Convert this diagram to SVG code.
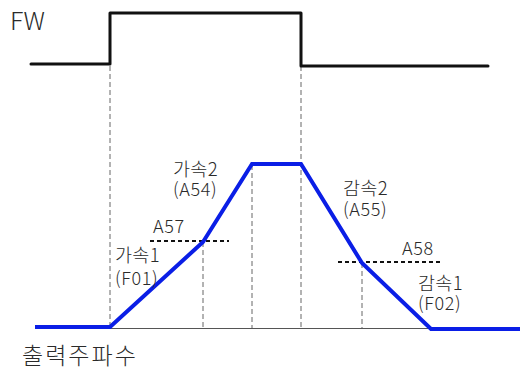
<svg xmlns="http://www.w3.org/2000/svg" width="520" height="372" viewBox="0 0 520 372">
<style>
.t{font-family:"Noto Sans CJK KR","Liberation Sans",sans-serif;font-size:18px;letter-spacing:0.6px;fill:#2a2a2a;font-weight:300;}
.k{font-family:"Noto Sans CJK KR","Liberation Sans",sans-serif;font-size:18.5px;letter-spacing:0.3px;fill:#2a2a2a;font-weight:300;}
.vd{stroke:#666;stroke-width:1;stroke-dasharray:5,3;fill:none;}
.hd{stroke:#111;stroke-width:2;stroke-dasharray:4,3;fill:none;}
</style>
<rect width="520" height="372" fill="#fff"/>
<g id="connectors">
<line class="vd" x1="110" y1="66" x2="110" y2="328"/>
<line class="vd" x1="301" y1="66" x2="301" y2="328"/>
<line class="vd" x1="203" y1="242" x2="203" y2="328"/>
<line class="vd" x1="252" y1="165" x2="252" y2="328"/>
<line class="vd" x1="362" y1="263" x2="362" y2="328"/>
<line x1="110" y1="328.5" x2="520" y2="328.5" stroke="#555" stroke-width="1.2"/>
<line class="hd" x1="150" y1="241" x2="229" y2="241"/>
<line class="hd" x1="338" y1="262" x2="440" y2="262"/>
</g>
<g id="fw">
<polyline points="31,64 110,64 110,13 301,13 301,66 488,66" fill="none" stroke="#111" stroke-width="3" stroke-linejoin="round" stroke-linecap="round"/>
<text x="10" y="30" class="t" style="font-size:25px;letter-spacing:0">FW</text>
</g>
<g id="output">
<polyline points="35,327 110,327 203,242 252,164 301,164 362,263 431,329 520,329" fill="none" stroke="#0a1ee6" stroke-width="4" stroke-linejoin="miter"/>
</g>
<g id="labels">
<text x="153" y="233" class="t">A57</text>
<text x="115" y="262" class="k">가속1</text>
<text x="115" y="285" class="t">(F01)</text>
<text x="173" y="176" class="k">가속2</text>
<text x="173" y="196" class="t">(A54)</text>
<text x="343" y="195" class="k">감속2</text>
<text x="343" y="216" class="t">(A55)</text>
<text x="402" y="255" class="t">A58</text>
<text x="418" y="290" class="k">감속1</text>
<text x="418" y="310" class="t">(F02)</text>
<text x="22" y="364" class="k" style="font-size:23px;letter-spacing:2px">출력주파수</text>
</g>
</svg>
